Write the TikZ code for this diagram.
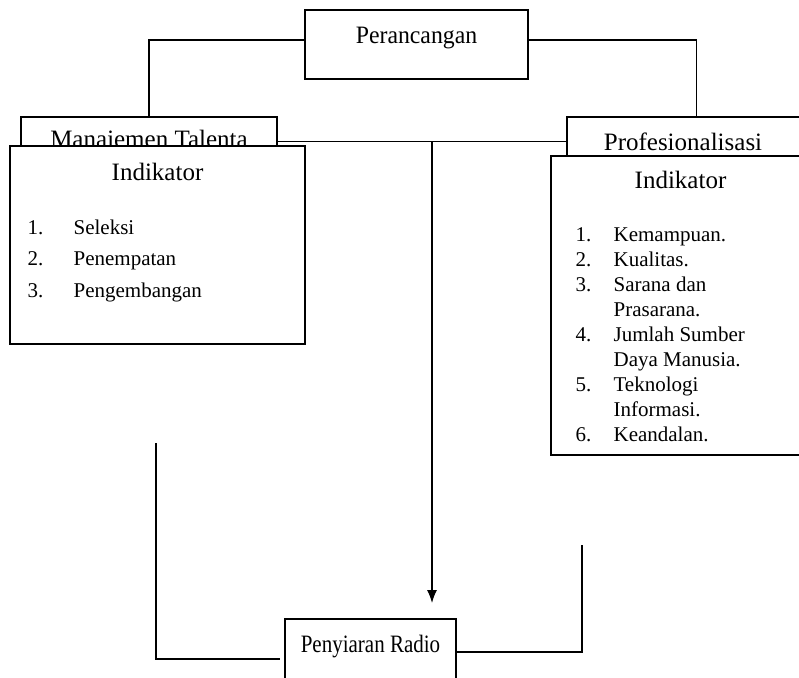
\documentclass[tikz,border=0pt]{standalone}
\usepackage{fontspec}
\usepackage{graphicx}
\setmainfont{Liberation Serif}
\usetikzlibrary{arrows.meta}
\begin{document}
\begin{tikzpicture}[x=1pt,y=-1pt,line width=1.2pt,
  box/.style={draw,fill=white,rectangle,inner sep=0pt},
  hdr/.style={anchor=base,inner sep=0pt,font=\fontsize{25}{30}\selectfont},
  itm/.style={anchor=base west,inner sep=0pt,font=\fontsize{21}{25}\selectfont}]
\useasboundingbox (0,0) rectangle (799,677);
% top box
\node[box,minimum width=223pt,minimum height=69pt] (per) at (416.5,44.5) {};
\node[hdr] (pert) at (416.5,44) {\scalebox{0.95}[1]{Perancangan}};
% Manajemen Talenta
\node[box,minimum width=256pt,minimum height=49pt] (mt) at (149,141.5) {};
\node[hdr] (mtt) at (149,147) {Manajemen Talenta};
% Profesionalisasi
\node[box,minimum width=259pt,minimum height=49pt] (prof) at (696.5,141.5) {};
\node[hdr] (proft) at (683,150) {Profesionalisasi};
% left indicator box
\node[box,minimum width=295pt,minimum height=198pt] (ind1) at (157.5,245) {};
\node[hdr] (ind1t) at (157.5,180) {Indikator};
\node[itm] (l1n) at (27,234) {1.};
\node[itm] (l1) at (73,234) {Seleksi};
\node[itm] (l2n) at (27,265.5) {2.};
\node[itm] (l2) at (73,265.5) {Penempatan};
\node[itm] (l3n) at (27,297) {3.};
\node[itm] (l3) at (73,297) {Pengembangan};
% right indicator box
\node[box,minimum width=259pt,minimum height=299pt] (ind2) at (680.5,305.5) {};
\node[hdr] (ind2t) at (680.5,188) {Indikator};
\node[itm] (r1n) at (575,241) {1.};
\node[itm] (r1) at (613,241) {Kemampuan.};
\node[itm] (r2n) at (575,266) {2.};
\node[itm] (r2) at (613,266) {Kualitas.};
\node[itm] (r3n) at (575,291) {3.};
\node[itm] (r3) at (613,291) {Sarana dan};
\node[itm] (r3b) at (613,316) {Prasarana.};
\node[itm] (r4n) at (575,341) {4.};
\node[itm] (r4) at (613,341) {Jumlah Sumber};
\node[itm] (r4b) at (613,366) {Daya Manusia.};
\node[itm] (r5n) at (575,391) {5.};
\node[itm] (r5) at (613,391) {Teknologi};
\node[itm] (r5b) at (613,416) {Informasi.};
\node[itm] (r6n) at (575,441) {6.};
\node[itm] (r6) at (613,441) {Keandalan.};
% bottom box
\node[box,minimum width=171pt,minimum height=80pt] (pen) at (370.5,659) {};
\node[hdr] (pent) at (370.5,652) {\scalebox{0.84}[1]{Penyiaran Radio}};
% connectors
\draw ([yshift=4.5pt]per.west) -| (mt.north);
\draw ([yshift=4.5pt]per.east) -| (prof.north);
\draw (mt.east) -- (prof.west);
\coordinate (aj) at (432,141.5);
\coordinate (atip) at (432,603);
\draw[-{Latex[length=13pt,width=10pt]}] (aj) -- (atip);
\coordinate (lt) at (156,443);
\coordinate (le) at (280,659);
\draw (lt) |- (le);
\coordinate (rt) at (582,545);
\draw ([yshift=7pt]pen.east) -| (rt);
\end{tikzpicture}
\end{document}
